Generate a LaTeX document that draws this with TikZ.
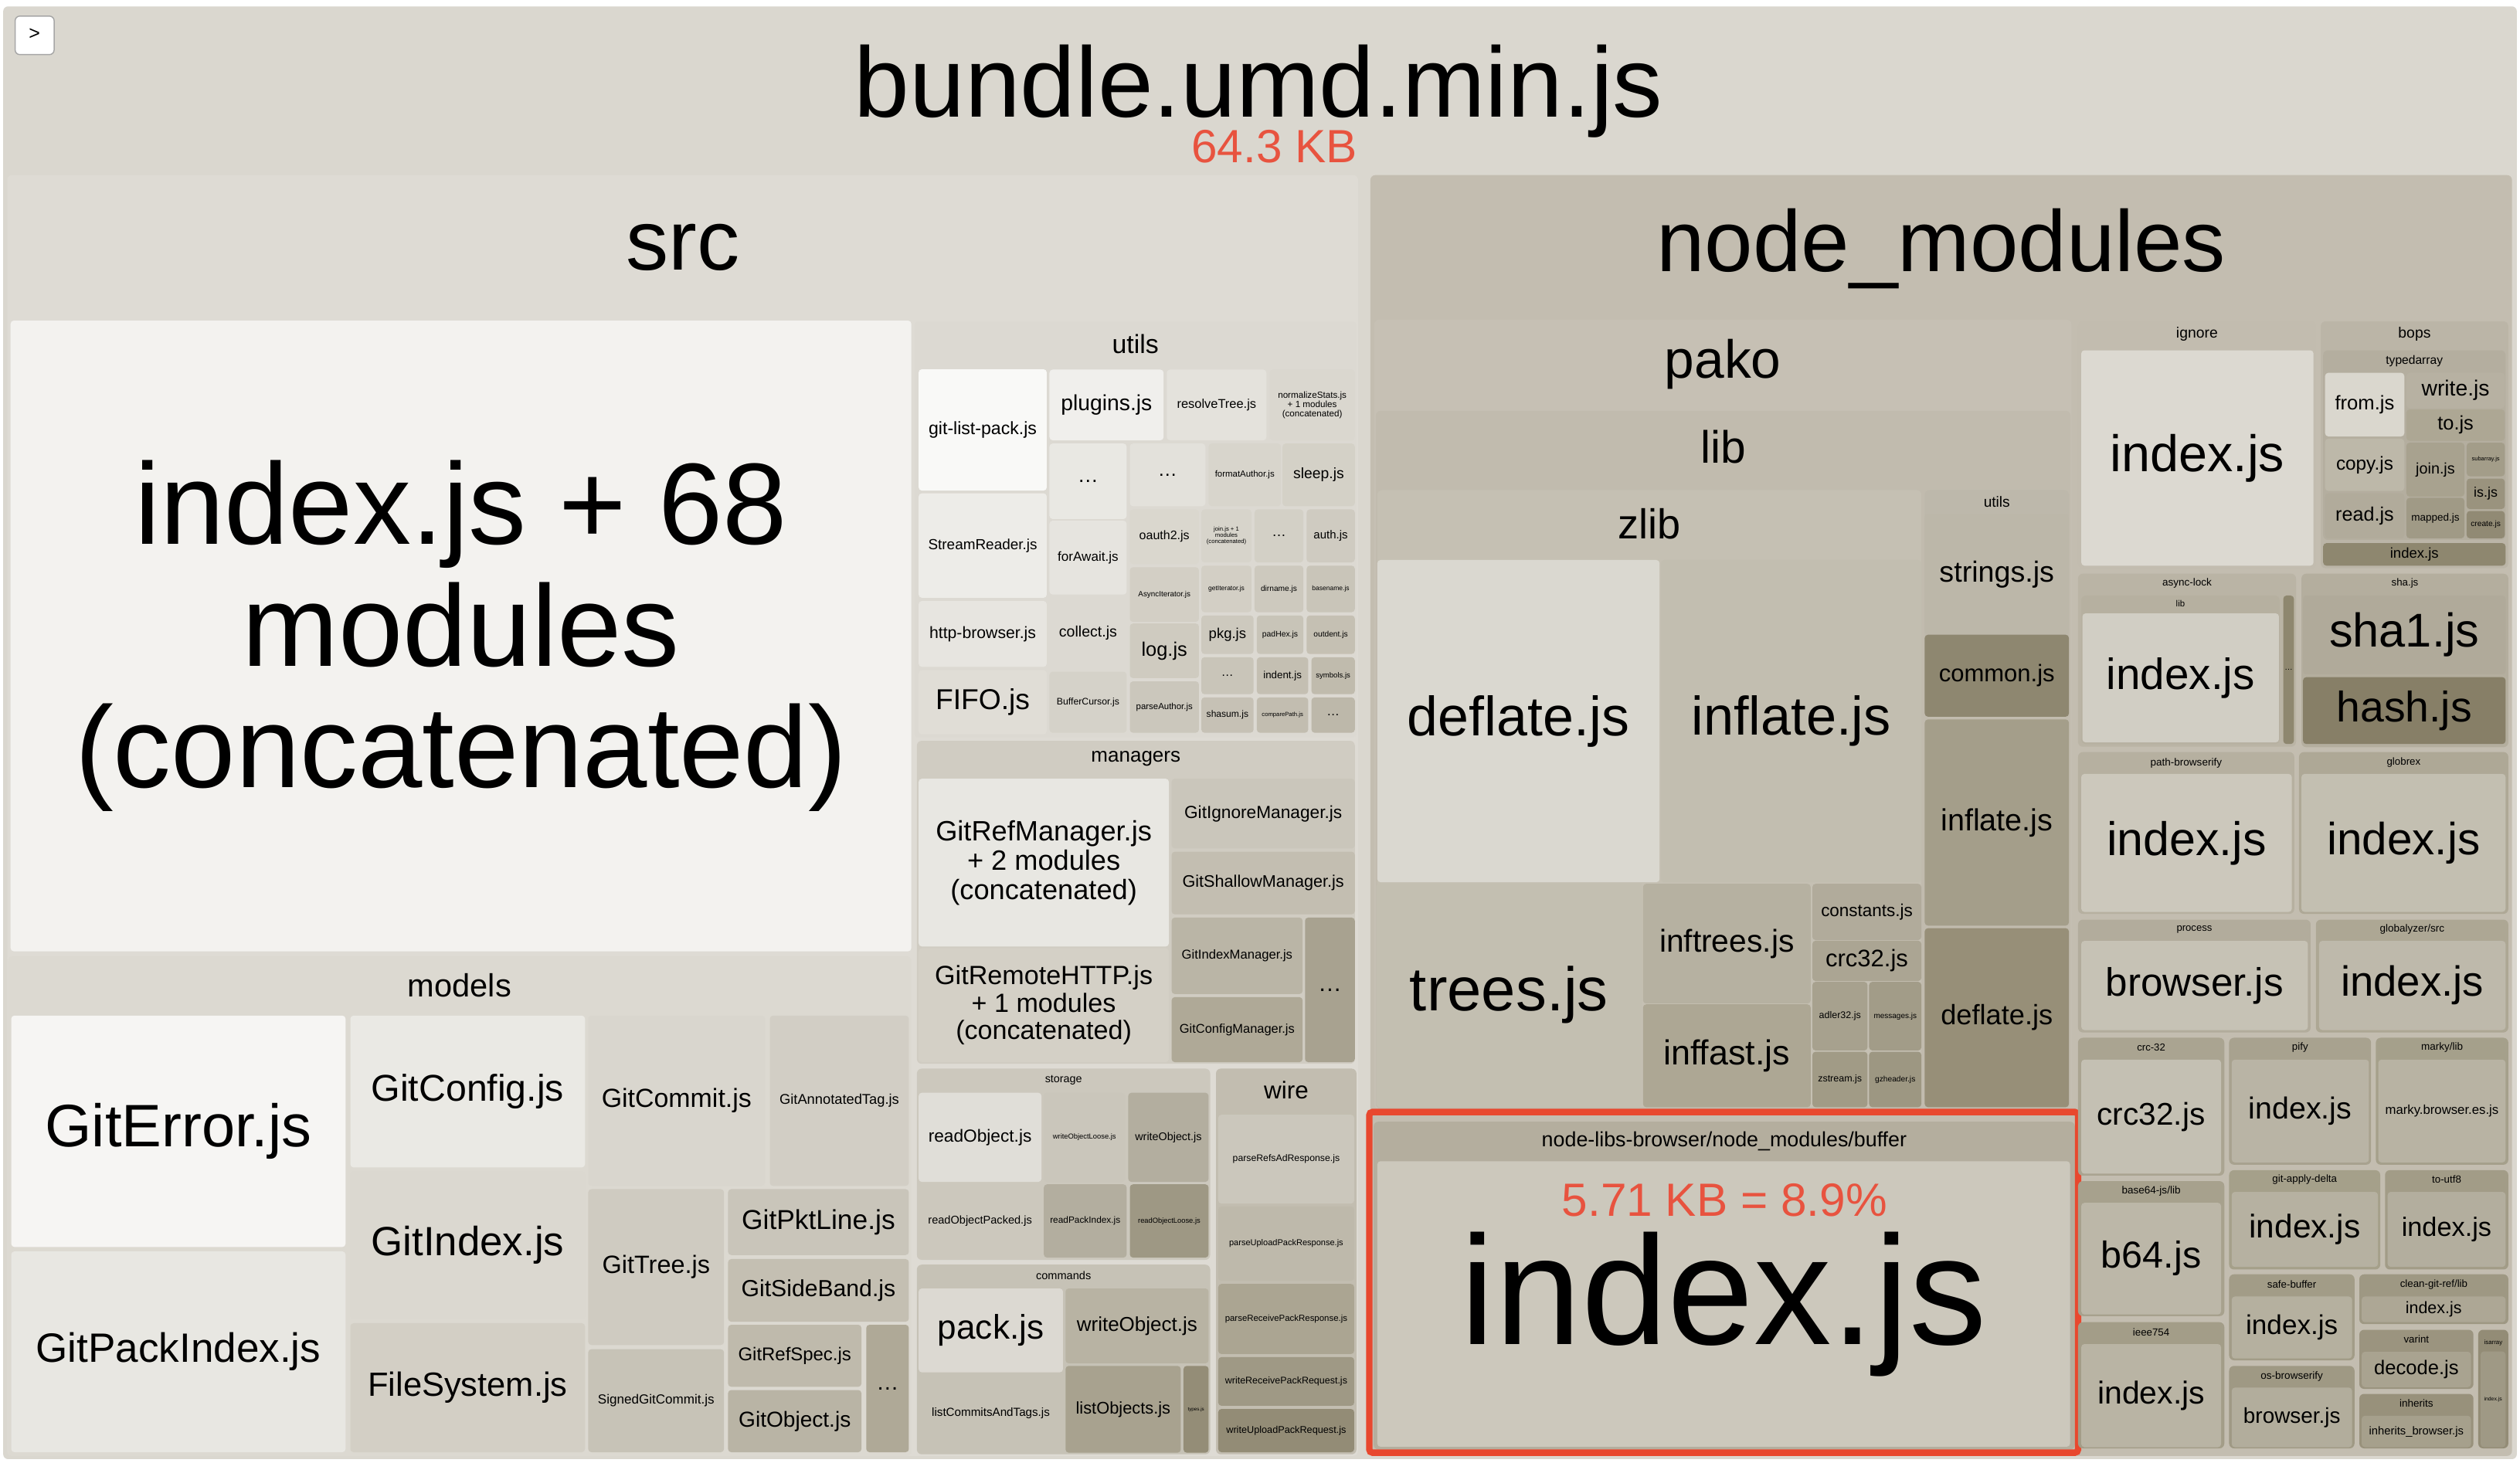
\documentclass[tikz,border=0pt]{standalone}
\usepackage{fontspec}
\setmainfont{Liberation Sans}
\newlength\pxu
\setlength\pxu{0.02cm}
\newcommand\fpx[1]{\fontsize{\dimexpr#1\pxu\relax}{\dimexpr#1\pxu*105/100\relax}\selectfont}
\definecolor{bundlebg}{HTML}{DAD7CF}
\definecolor{sizered}{HTML}{E8533F}
\definecolor{markred}{HTML}{E8482E}
\tikzset{
  tile/.style={rounded corners=0.04cm},
  grp/.style={rounded corners=0.06cm},
  lbl/.style={inner sep=0pt, align=center, text=black},
}
% name, x1, y1, x2, y2, fill, font px, text
\newcommand\tile[8]{%
  \definecolor{tilefill}{HTML}{#6}%
  \fill[tile,tilefill] (#2,#3) rectangle (#4,#5);
  \node[lbl,font=\fpx{#7}] (#1) at ({(#2+#4)/2},{(#3+#5)/2}) {#8};}
% name, x1, y1, x2, y2, fill, font px, label y, label
\newcommand\grp[9]{%
  \definecolor{grpfill}{HTML}{#6}%
  \fill[grp,grpfill] (#2,#3) rectangle (#4,#5);
  \node[lbl,font=\fpx{#7}] (#1) at ({(#2+#4)/2},#8) {#9};}
\begin{document}
\begin{tikzpicture}[x=0.02cm, y=-0.02cm]
  \useasboundingbox[fill=white] (0,0) rectangle (1568,910.4);
  % bundle
  \fill[grp,bundlebg] (2,4) rectangle (1566,908);
  \node[lbl,font=\fpx{62},anchor=base] (bundle) at (783,73) {bundle.umd.min.js};
  \node[lbl,font=\fpx{29},text=sizered,anchor=base] (bundlesize) at (793,101.3) {64.3 KB};
  \draw[grp,fill=white,draw=black!35,line width=0.4pt] (9.4,10) rectangle (33.7,34);
  \node[lbl,font=\fpx{12}] (toggle) at (21.5,21.5) {>};

  % src
  \grp{src}{4.5}{109}{845}{906}{DEDBD4}{53}{154}{src}
  \tile{index68}{6.6}{199.5}{567}{592}{F3F2EF}{72}{index.js + 68\\modules\\(concatenated)}

  % src/utils
  \grp{utils}{569}{200}{844}{459}{DCD9D2}{16.3}{214}{utils}
  \tile{gitlistpack}{571.6}{229.8}{651.3}{305.3}{F9F9F7}{11.1}{git-list-pack.js}
  \tile{plugins}{653}{230}{724}{274}{F0EFEC}{13.6}{plugins.js}
  \tile{resolvetree}{726}{230}{788}{274}{E4E2DC}{7.9}{resolveTree.js}
  \tile{normalizestats}{790}{230}{843}{274}{DAD7CF}{5.6}{normalizeStats.js\\+ 1 modules\\(concatenated)}
  \tile{utilsmoreA}{653}{276}{701}{323}{E9E8E3}{13}{…}
  \tile{utilsmoreB}{703}{276}{750}{315}{E3E1DB}{12}{…}
  \tile{formatauthor}{752}{276}{797}{315}{D8D5CC}{5.5}{formatAuthor.js}
  \tile{sleep}{798}{276}{843}{315}{D4D1C7}{9.3}{sleep.js}
  \tile{streamreader}{571.6}{307}{651.3}{372}{EDECE8}{9.1}{StreamReader.js}
  \tile{httpbrowser}{571.6}{374}{651.3}{415}{E7E5E0}{10.2}{http-browser.js}
  \tile{fifo}{571.6}{417}{651.3}{457}{E0DDD6}{17.9}{FIFO.js}
  \tile{forawait}{653}{324}{701}{370}{E6E4DF}{8.2}{forAwait.js}
  \tile{collect}{653}{372}{701}{416}{DCD9D2}{9.4}{collect.js}
  \tile{buffercursor}{653}{418}{701}{456}{D5D2C9}{5.9}{BufferCursor.js}
  \tile{oauth}{703}{317}{746}{351}{DAD7CE}{7.7}{oauth2.js}
  \tile{asynciterator}{703}{353}{746}{387}{D3CFC5}{4.75}{AsyncIterator.js}
  \tile{log}{703}{388}{746}{422}{CFCBC0}{12.2}{log.js}
  \tile{parseauthor}{703}{424}{746}{456}{CBC7BC}{5.5}{parseAuthor.js}
  \tile{joinjs}{747.5}{317}{778.7}{350}{D7D4CB}{3.7}{join.js + 1\\modules\\(concatenated)}
  \tile{utilsmoreC}{780.6}{317}{811}{350}{D3D0C6}{8.9}{…}
  \tile{auth}{813}{317}{843}{350}{CFCBC1}{7.2}{auth.js}
  \tile{getiterator}{747.5}{352}{778.7}{381}{D3CFC5}{4.1}{getIterator.js}
  \tile{dirname}{780.6}{352}{811}{381}{CDC9BE}{4.9}{dirname.js}
  \tile{basename}{813}{352}{843}{381}{C9C5B9}{4.1}{basename.js}
  \tile{pkg}{747.5}{383}{780}{407}{CDC9BE}{8.9}{pkg.js}
  \tile{padhex}{782}{383}{811}{407}{C8C4B8}{5}{padHex.js}
  \tile{outdent}{813}{383}{843}{407}{C5C0B3}{4.9}{outdent.js}
  \tile{utilsmoreD}{747.5}{409}{780}{432}{C9C5B9}{7.6}{…}
  \tile{indent}{782}{409}{814}{432}{C4BFB2}{6.4}{indent.js}
  \tile{symbols}{816}{409}{843}{432}{C0BBAD}{4.6}{symbols.js}
  \tile{shasum}{747.5}{434}{780}{456}{C6C1B5}{5.8}{shasum.js}
  \tile{comparepath}{782}{434}{814}{456}{C2BDB0}{3.7}{comparePath.js}
  \tile{utilsmoreE}{816}{434}{843}{456}{BDB8AA}{8}{…}

  % src/managers
  \grp{managers}{570.5}{461}{843}{662}{D0CCC2}{12.5}{472}{managers}
  \tile{gitrefmanager}{571.6}{484.6}{727.3}{589}{E8E7E2}{17.4}{GitRefManager.js\\+ 2 modules\\(concatenated)}
  \tile{gitremotehttp}{571.6}{590}{727.3}{661}{D4D0C6}{16.4}{GitRemoteHTTP.js\\+ 1 modules\\(concatenated)}
  \tile{gitignoremanager}{729}{484.6}{843}{528}{CAC6BB}{10.9}{GitIgnoreManager.js}
  \tile{gitshallowmanager}{729}{530}{843}{569}{C3BEB1}{10.4}{GitShallowManager.js}
  \tile{gitindexmanager}{729}{571}{810.5}{618.6}{BAB5A6}{8}{GitIndexManager.js}
  \tile{gitconfigmanager}{729}{620.5}{810.5}{661}{AFA997}{7.9}{GitConfigManager.js}
  \tile{managersmore}{812}{571}{843}{661}{A8A290}{14.8}{…}

  % src/storage
  \grp{storage}{570.5}{665}{753}{784}{CCC8BD}{6.9}{672}{storage}
  \tile{readobject}{571.6}{680}{648}{735.5}{E0DED8}{10.9}{readObject.js}
  \tile{writeobjectloose}{649.5}{680}{700}{735.5}{CAC6BB}{4.5}{writeObjectLoose.js}
  \tile{writeobjectS}{702}{680}{752}{735.5}{B3AE9F}{6.9}{writeObject.js}
  \tile{readobjectpacked}{571.6}{737}{648}{782.6}{CCC8BD}{7}{readObjectPacked.js}
  \tile{readpackindex}{649.5}{737}{701}{782.6}{B3AE9F}{5.7}{readPackIndex.js}
  \tile{readobjectloose}{703}{737}{752}{782.6}{9E9884}{4.5}{readObjectLoose.js}

  % src/commands
  \grp{commands}{570.5}{787}{753}{905}{C6C2B6}{7}{793.7}{commands}
  \tile{pack}{571.6}{801.8}{661.4}{854}{DCD9D2}{21.2}{pack.js}
  \tile{listcommits}{571.6}{855}{661.4}{904}{C6C2B6}{7.3}{listCommitsAndTags.js}
  \tile{writeobjectC}{663}{801.8}{752}{848.4}{B8B3A3}{12.5}{writeObject.js}
  \tile{listobjects}{663}{850}{734.7}{904}{A8A28F}{10.5}{listObjects.js}
  \tile{types}{736.4}{850}{752}{904}{948D77}{3}{types.js}

  % src/wire
  \grp{wire}{756.6}{665}{844}{905}{C2BDB0}{15.1}{678.6}{wire}
  \tile{parserefs}{758}{693.7}{842.6}{749}{CBC7BC}{5.9}{parseRefsAdResponse.js}
  \tile{parseupload}{758}{750.8}{842.6}{797}{BEB9AB}{5.3}{parseUploadPackResponse.js}
  \tile{parsereceive}{758}{799}{842.6}{842.6}{ABA592}{5.5}{parseReceivePackResponse.js}
  \tile{writereceive}{758}{844.5}{842.6}{874.8}{9F9985}{6}{writeReceivePackRequest.js}
  \tile{writeupload}{758}{876.8}{842.6}{903.7}{938C76}{6.1}{writeUploadPackRequest.js}

  % src/models
  \grp{models}{5}{595}{567}{906}{DCD9D1}{20}{613}{models}
  \tile{giterror}{7}{632}{215}{776}{F6F5F3}{37.3}{GitError.js}
  \tile{gitpackindex}{7}{778.7}{215}{903.7}{E8E7E2}{25.5}{GitPackIndex.js}
  \tile{gitconfig}{218}{632}{364}{726.5}{EAE9E4}{23.2}{GitConfig.js}
  \tile{gitindex}{218}{729}{364}{821}{DBD8D0}{25.4}{GitIndex.js}
  \tile{filesystem}{218}{823.4}{364}{903.7}{D3CFC5}{20.9}{FileSystem.js}
  \tile{gitcommit}{366}{632}{476}{738}{D9D6CE}{16.3}{GitCommit.js}
  \tile{gitannotatedtag}{479}{632}{565.5}{738}{D2CEC5}{8.8}{GitAnnotatedTag.js}
  \tile{gittree}{366}{740}{450.5}{837}{CFCBC1}{15.6}{GitTree.js}
  \tile{signedgitcommit}{366}{839.6}{450.5}{903.7}{C7C3B7}{8.2}{SignedGitCommit.js}
  \tile{gitpktline}{453}{740}{565.5}{781}{C9C5BA}{17}{GitPktLine.js}
  \tile{gitsideband}{453}{783.5}{565.5}{822.5}{C4BFB2}{14.5}{GitSideBand.js}
  \tile{gitrefspec}{453}{824.4}{536}{863}{BFBAAC}{11.5}{GitRefSpec.js}
  \tile{gitobject}{453}{865}{536}{903.7}{B9B4A5}{13.5}{GitObject.js}
  \tile{modelsmore}{539}{824.4}{565.5}{903.7}{AFA997}{14}{…}

  % node_modules
  \grp{nodemodules}{852.7}{109}{1563}{906}{C3BDB0}{54}{155}{node\_modules}

  % pako
  \grp{pako}{855}{199}{1289}{690}{C6C0B4}{33.4}{226.5}{pako}
  \grp{pakolib}{856}{255.7}{1288.4}{690}{C1BBAE}{28.2}{278}{lib}
  \grp{zlib}{857}{305}{1195.5}{689}{C5C0B3}{26}{326}{zlib}
  \tile{deflatez}{857}{348.5}{1032.6}{549}{DAD8D0}{34.5}{deflate.js}
  \tile{inflatez}{1033.5}{348.5}{1195.5}{549}{C2BEB0}{33.8}{inflate.js}
  \tile{trees}{856.4}{549.5}{1021.5}{689}{C3BFB1}{38.3}{trees.js}
  \tile{inftrees}{1022.3}{550}{1126.6}{624.5}{B6B1A1}{19.6}{inftrees.js}
  \tile{inffast}{1022.3}{625}{1126.6}{689}{ADA794}{21.6}{inffast.js}
  \tile{constants}{1127.7}{550}{1195.5}{585}{B1AB9B}{10.8}{constants.js}
  \tile{crczlib}{1127.7}{585.4}{1195.5}{610.5}{ABA593}{14.9}{crc32.js}
  \tile{adler}{1127.7}{611}{1162}{653.7}{A7A18E}{6}{adler32.js}
  \tile{messages}{1163}{611}{1195.5}{653.7}{A29C88}{4.8}{messages.js}
  \tile{zstream}{1127.7}{654.5}{1162}{689}{A19B86}{6}{zstream.js}
  \tile{gzheader}{1163}{654.5}{1195.5}{689}{9D9782}{4.9}{gzheader.js}
  \grp{pakoutils}{1197.6}{305}{1287.3}{446}{BDB8AB}{9.2}{312.5}{utils}
  \tile{strings}{1197.6}{320}{1287.3}{394.6}{BCB7A9}{18.1}{strings.js}
  \tile{common}{1197.6}{395}{1287.3}{446}{8E8770}{14.9}{common.js}
  \tile{inflatelib}{1197.6}{447.7}{1287.3}{576}{A49E8A}{19}{inflate.js}
  \tile{deflatelib}{1197.6}{577.6}{1287.3}{689}{978F78}{17.4}{deflate.js}

  % node-libs-browser/node_modules/buffer
  \grp{buffer}{854.7}{698}{1291}{902}{B4AE9E}{12.9}{710}{node-libs-browser/node\_modules/buffer}
  \tile{bufferindex}{857}{722.6}{1288}{900.3}{CCC8BC}{96.5}{index.js}
  \node[lbl,font=\fpx{29},text=sizered,anchor=base] (buffersize) at (1073,757) {5.71 KB = 8.9\%};
  \draw[markred,line width=0.08cm,rounded corners=0.04cm] (852,692) rectangle (1293,904);

  % ignore, bops
  \grp{ignore}{1293}{200}{1441}{353.6}{C2BCAF}{9.3}{208}{ignore}
  \tile{ignoreindex}{1295}{218}{1439.5}{352}{DCD9D1}{32}{index.js}
  \grp{bops}{1444}{200}{1560.7}{353.6}{BBB5A7}{9.3}{208}{bops}
  \grp{typedarray}{1445.5}{218}{1559}{336}{B4AE9F}{7.5}{224.5}{typedarray}
  \tile{from}{1446.7}{232}{1496}{271.6}{DAD7CE}{12.3}{from.js}
  \tile{write}{1497.3}{232}{1558.5}{254}{B7B1A2}{13.6}{write.js}
  \tile{to}{1497.3}{254.8}{1558.5}{274.3}{ADA794}{12.2}{to.js}
  \tile{copy}{1446.7}{273}{1496}{305.5}{BDB8A9}{11.7}{copy.js}
  \tile{read}{1446.7}{307}{1496}{335}{B1AB9B}{12.1}{read.js}
  \tile{join}{1497.3}{275.5}{1533.4}{309}{A8A28F}{9.5}{join.js}
  \tile{mapped}{1497.3}{309.8}{1533.4}{335}{A09A86}{6.5}{mapped.js}
  \tile{subarray}{1534.8}{275.5}{1558.5}{296.4}{A39D89}{3.6}{subarray.js}
  \tile{isjs}{1534.8}{297.8}{1558.5}{316.8}{9A937E}{8.6}{is.js}
  \tile{create}{1534.8}{318}{1558.5}{335}{918A74}{4.9}{create.js}
  \tile{bopsindex}{1445.5}{338}{1559}{352}{8E876F}{8.9}{index.js}

  % async-lock, sha.js
  \grp{asynclock}{1293}{357}{1428.6}{464.7}{BAB4A5}{6.5}{363}{async-lock}
  \grp{asynclib}{1295}{370.6}{1418.4}{463}{B6B0A0}{5.5}{375.5}{lib}
  \tile{asyncindex}{1295.7}{381.7}{1418}{462}{D1CEC4}{27.2}{index.js}
  \tile{asyncmore}{1420.7}{370.6}{1427.3}{463}{8E876F}{5}{…}
  \grp{shajs}{1432}{357}{1560.7}{465}{B4AE9E}{6.4}{363}{sha.js}
  \tile{shaone}{1433}{370.6}{1559}{419.6}{B0AA9A}{29.5}{sha1.js}
  \tile{hash}{1433}{421.4}{1559}{463}{877F67}{26.6}{hash.js}

  % path-browserify, globrex, process, globalyzer
  \grp{pathbrowserify}{1293}{468}{1427.5}{568.7}{B6B0A0}{6.5}{474.7}{path-browserify}
  \tile{pathindex}{1295}{481.6}{1426}{567.5}{CCC8BC}{29.3}{index.js}
  \grp{globrex}{1430.5}{468}{1560.7}{568.7}{AEA896}{6.4}{474.7}{globrex}
  \tile{globrexindex}{1432}{481.6}{1559}{567.5}{C3BFB1}{28.1}{index.js}
  \grp{process}{1293}{572.3}{1437.7}{642.5}{B2AC9C}{6.3}{578.4}{process}
  \tile{processbrowser}{1295}{585.5}{1436}{641}{C6C2B5}{24.6}{browser.js}
  \grp{globalyzer}{1441}{572.3}{1560.7}{642.5}{ADA794}{6.5}{578.4}{globalyzer/src}
  \tile{globalyzerindex}{1443}{585.5}{1559}{641}{BEB9AB}{26.2}{index.js}

  % small packages
  \grp{crcpkg}{1293}{645.8}{1384}{731.6}{AAA491}{6.3}{652}{crc-32}
  \tile{crcjs}{1295}{659.4}{1382}{730.4}{C4C0B3}{19.5}{crc32.js}
  \grp{basesixtyfour}{1293}{735}{1384}{819}{A7A18D}{6.5}{741.4}{base64-js/lib}
  \tile{bsixtyfour}{1295}{748.5}{1382}{818}{BCB7A8}{23.3}{b64.js}
  \grp{ieee}{1293}{822.8}{1384}{901.3}{A39D88}{6.4}{829}{ieee754}
  \tile{ieeeindex}{1295}{836.4}{1382}{900.6}{B9B4A4}{19.7}{index.js}
  \grp{pify}{1387}{645.8}{1475.3}{724.8}{A8A28F}{6.4}{652}{pify}
  \tile{pifyindex}{1388.6}{659.4}{1474}{723.4}{B9B4A5}{18.9}{index.js}
  \grp{marky}{1478.3}{645.8}{1560.7}{724.8}{A5A08B}{6.5}{652}{marky/lib}
  \tile{markybrowser}{1479.8}{659.4}{1559}{723.4}{B8B3A3}{8.05}{marky.browser.es.js}
  \grp{gitapplydelta}{1387}{728.2}{1481}{790}{A5A08A}{6.4}{734}{git-apply-delta}
  \tile{deltaindex}{1388.6}{741.7}{1479.6}{788.4}{B6B1A1}{20.4}{index.js}
  \grp{toutf}{1484}{728.2}{1560.7}{790}{A29C87}{6.4}{734}{to-utf8}
  \tile{utfindex}{1485.6}{741.7}{1559}{788.4}{B3AE9E}{16.5}{index.js}
  \grp{safebuffer}{1387}{793}{1465}{846.5}{A29C87}{6.4}{799.4}{safe-buffer}
  \tile{safeindex}{1388.6}{806.8}{1463.5}{845.4}{B5B09F}{16.9}{index.js}
  \grp{osbrowserify}{1387}{850}{1465}{901.3}{9F9984}{6.5}{856.4}{os-browserify}
  \tile{osbrowser}{1388.6}{863.5}{1463.5}{900.6}{B2AD9C}{13.4}{browser.js}
  \grp{cleangitref}{1468}{793}{1560.7}{824}{9E9883}{6.4}{799.4}{clean-git-ref/lib}
  \tile{cleanindex}{1469.5}{806.8}{1559}{822.8}{ADA795}{10.3}{index.js}
  \grp{varint}{1468}{827.5}{1539}{864.3}{9B947F}{6.4}{833.5}{varint}
  \tile{decode}{1469.5}{841.2}{1537.5}{863.2}{A9A390}{12.3}{decode.js}
  \grp{inherits}{1468}{867.4}{1539}{901.3}{98917B}{6.5}{873.4}{inherits}
  \tile{inheritsbrowser}{1469.5}{881}{1537.5}{900.6}{A6A08C}{7.1}{inherits\_browser.js}
  \grp{isarray}{1542}{827.5}{1560.7}{901.3}{938C76}{3.8}{835.5}{isarray}
  \tile{isarrayindex}{1543.5}{841}{1559}{900.6}{9F9985}{3.3}{index.js}
\end{tikzpicture}
\end{document}
